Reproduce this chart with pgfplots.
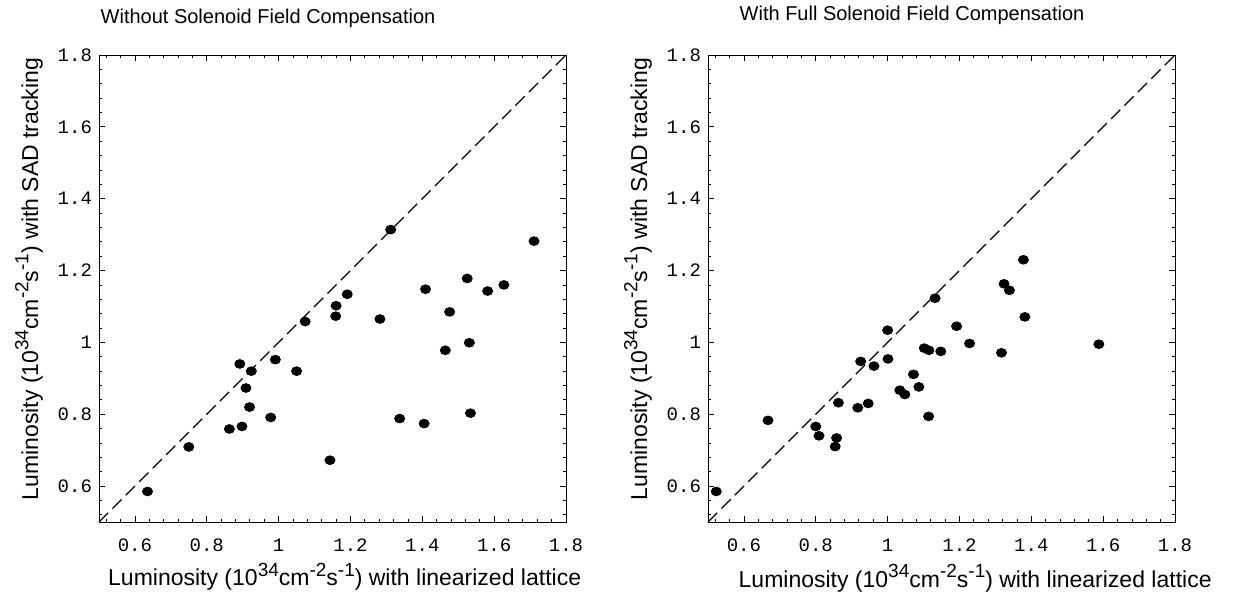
\documentclass[border=0pt]{standalone}
\usepackage{fontspec}
\setmainfont{Liberation Sans}
\setmonofont{Liberation Mono}
\usepackage{pgfplots}
\usepackage{pgfplotstable}
\pgfplotsset{compat=1.18}

\pgfplotstableread{
x y
0.635 0.585
0.750 0.709
0.863 0.759
0.898 0.766
0.892 0.940
0.924 0.920
0.909 0.873
0.919 0.820
0.978 0.791
0.991 0.952
1.050 0.920
1.074 1.058
1.143 0.672
1.160 1.102
1.159 1.073
1.191 1.134
1.282 1.065
1.312 1.314
1.337 0.788
1.405 0.774
1.409 1.148
1.464 0.978
1.476 1.085
1.525 1.178
1.531 0.999
1.534 0.803
1.582 1.143
1.627 1.160
1.711 1.282
}\leftdata

\pgfplotstableread{
x y
0.523 0.585
0.667 0.783
0.800 0.766
0.809 0.740
0.854 0.710
0.858 0.734
0.863 0.832
0.917 0.818
0.925 0.947
0.946 0.830
0.962 0.934
1.000 1.034
1.001 0.954
1.034 0.867
1.048 0.855
1.072 0.911
1.087 0.876
1.102 0.984
1.115 0.978
1.114 0.794
1.132 1.123
1.148 0.975
1.192 1.045
1.228 0.997
1.317 0.971
1.324 1.163
1.339 1.145
1.378 1.230
1.382 1.071
1.588 0.995
}\rightdata

\pgfplotstableread{
x y
0.5 0.5
1.8 1.8
}\diagdata

\newcommand\sups[1]{\raisebox{0.42em}{\fontsize{9.5}{10}\selectfont #1}}
\newcommand\lumlabel{Luminosity (10\sups{34}cm\sups{-2}s\sups{-1})}

\pgfplotsset{
  lumaxis/.style={
    scale only axis,
    width=233.5pt, height=233.5pt,
    xmin=0.5, xmax=1.8, ymin=0.5, ymax=1.8,
    xtick={0.6,0.8,1,1.2,1.4,1.6,1.8},
    ytick={0.6,0.8,1,1.2,1.4,1.6,1.8},
    minor xtick={0.52,0.56,0.64,0.68,0.72,0.76,0.84,0.88,0.92,0.96,1.04,1.08,1.12,1.16,1.24,1.28,1.32,1.36,1.44,1.48,1.52,1.56,1.64,1.68,1.72,1.76},
    minor ytick={0.52,0.56,0.64,0.68,0.72,0.76,0.84,0.88,0.92,0.96,1.04,1.08,1.12,1.16,1.24,1.28,1.32,1.36,1.44,1.48,1.52,1.56,1.64,1.68,1.72,1.76},
    tick align=inside,
    major tick length=3pt,
    minor tick length=1.6pt,
    every tick/.style={black, line width=0.4pt},
    axis line style={line width=0.5pt},
    /pgf/number format/assume math mode=true,
    ticklabel style={font=\ttfamily\fontsize{9.5}{11}\selectfont},
    xticklabel style={yshift=-5pt},
    label style={font=\fontsize{11.5}{13}\selectfont},
    ylabel style={at={(axis description cs:-0.150,0.52)}, anchor=center},
    ylabel={\lumlabel{} with SAD tracking},
    xlabel={\lumlabel{} with linearized lattice},
    clip=false,
  },
  dotstyle/.style={only marks, mark=*, mark size=2.2pt, color=black,
    mark options={xscale=1.15, fill=black}},
  diagstyle/.style={no marks, black, line width=0.6pt, dash pattern=on 6.5pt off 3pt},
}

\begin{document}
\begin{tikzpicture}
\begin{axis}[lumaxis, at={(49.5pt,37pt)}, anchor=south west,
  xlabel style={at={(axis description cs:0.526,-0.117)}, anchor=center}]
  \addplot[diagstyle] table[x=x,y=y] {\diagdata};
  \addplot[dotstyle] table[x=x,y=y] {\leftdata};
\end{axis}
\begin{axis}[lumaxis, at={(354pt,37pt)}, anchor=south west,
  xlabel style={at={(axis description cs:0.572,-0.121)}, anchor=center}]
  \addplot[diagstyle] table[x=x,y=y] {\diagdata};
  \addplot[dotstyle] table[x=x,y=y] {\rightdata};
\end{axis}
\node[font=\fontsize{10}{12}\selectfont] at (134pt,289pt) {Without Solenoid Field Compensation};
\node[font=\fontsize{10}{12}\selectfont] at (456pt,290.5pt) {With Full Solenoid Field Compensation};
\pgfresetboundingbox
\path[use as bounding box] (0,0) rectangle (620pt,298pt);
\end{tikzpicture}
\end{document}
